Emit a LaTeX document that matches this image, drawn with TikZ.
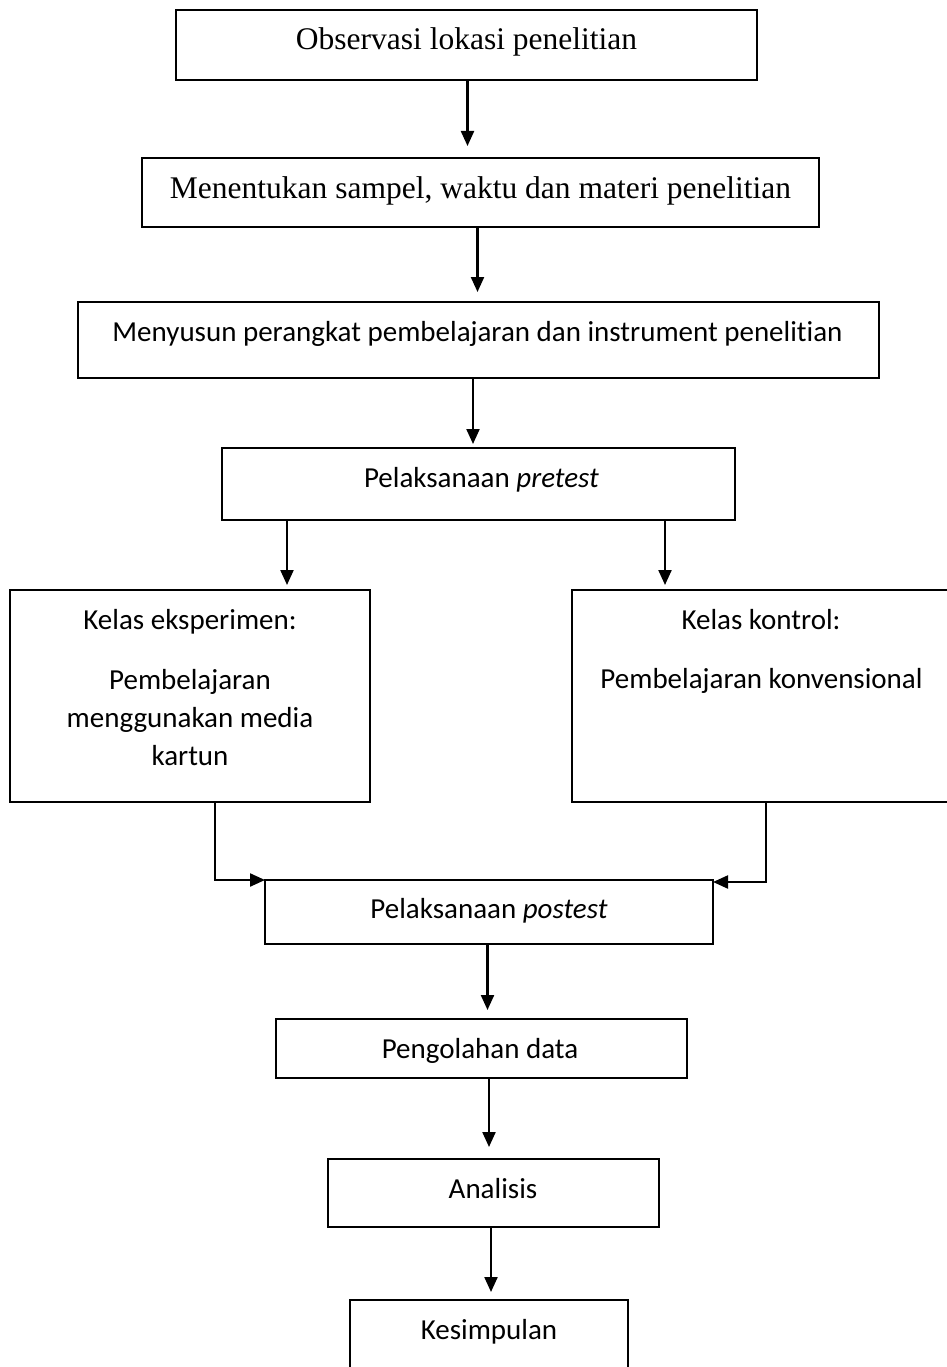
\documentclass[tikz,border=0pt]{standalone}
\usepackage{fontspec}
\setmainfont{Liberation Serif}
\newfontfamily\calfont[Ligatures=NoCommon]{Carlito}
\usetikzlibrary{arrows.meta}
\tikzset{
  box/.style={draw=black, line width=2.2pt, anchor=north west, inner sep=0pt, outer sep=0pt},
  serift/.style={anchor=base, inner sep=0pt, font=\fontsize{31.5}{38}\selectfont},
  calt/.style={anchor=base, inner sep=0pt, font=\calfont\fontsize{29}{38}\selectfont},
  arr/.style={line width=2.2pt, -{Triangle[length=15pt,width=13pt]}},
}
\begin{document}
\begin{tikzpicture}[x=1pt,y=-1pt]
\useasboundingbox (0,0) rectangle (947,1367);
\fill[white] (0,0) rectangle (947,1367);
\clip (0,0) rectangle (947,1367);
% boxes
\node[box, minimum width=581pt, minimum height=70pt] (b1) at (176,10) {};
\node[box, minimum width=677pt, minimum height=69pt] (b2) at (142,158) {};
\node[box, minimum width=801pt, minimum height=76pt] (b3) at (78,302) {};
\node[box, minimum width=513pt, minimum height=72pt] (b4) at (222,448) {};
\node[box, minimum width=360pt, minimum height=212pt] (b5) at (10,590) {};
\node[box, minimum width=379pt, minimum height=212pt] (b6) at (572,590) {};
\node[box, minimum width=448pt, minimum height=64pt] (b7) at (265,880) {};
\node[box, minimum width=411pt, minimum height=59pt] (b8) at (276,1019) {};
\node[box, minimum width=331pt, minimum height=68pt] (b9) at (328,1159) {};
\node[box, minimum width=278pt, minimum height=100pt] (b10) at (350,1300) {};
% texts
\node[serift] (t1) at (466.5,50) {Observasi lokasi penelitian};
\node[serift] (t2) at (480.5,199) {Menentukan sampel, waktu dan materi penelitian};
\node[calt] (t3) at (477.5,341) {Menyusun perangkat pembelajaran dan instrument penelitian};
\node[calt] (t4) at (481.5,487) {Pelaksanaan \textit{pretest}};
\node[calt] (t5a) at (190,629) {Kelas eksperimen:};
\node[calt] (t5b) at (190,689) {Pembelajaran};
\node[calt] (t5c) at (190,727) {menggunakan media};
\node[calt] (t5d) at (190,765) {kartun};
\node[calt] (t6a) at (761,629) {Kelas kontrol:};
\node[calt] (t6b) at (761.5,688) {Pembelajaran konvensional};
\node[calt] (t7) at (489,918) {Pelaksanaan \textit{postest}};
\node[calt] (t8) at (480,1058) {Pengolahan data};
\node[calt] (t9) at (493,1198) {Analisis};
\node[calt] (t10) at (489,1339) {Kesimpulan};
% connectors
\draw[arr, shorten >=12pt] ([xshift=1pt]b1.south) -- ([xshift=1pt]b1.south |- b2.north);
\draw[arr, shorten >=10pt] ([xshift=-3pt]b2.south) -- ([xshift=-3pt]b2.south |- b3.north);
\draw[arr, shorten >=4pt] ([xshift=-5.5pt]b3.south) -- ([xshift=-5.5pt]b3.south |- b4.north);
\draw[arr, shorten >=5pt] ([xshift=-191.5pt]b4.south) -- ([xshift=-191.5pt]b4.south |- b5.north);
\draw[arr, shorten >=5pt] ([xshift=186.5pt]b4.south) -- ([xshift=186.5pt]b4.south |- b6.north);
\draw[arr] ([xshift=25pt]b5.south) |- (b7.north west);
\draw[arr] ([xshift=4.5pt]b6.south) |- ([yshift=-2pt]b7.north east);
\draw[arr, shorten >=9pt] ([xshift=-1.5pt]b7.south) -- ([xshift=-1.5pt]b7.south |- b8.north);
\draw[arr, shorten >=12pt] ([xshift=7.5pt]b8.south) -- ([xshift=7.5pt]b8.south |- b9.north);
\draw[arr, shorten >=8pt] ([xshift=-2.5pt]b9.south) -- ([xshift=-2.5pt]b9.south |- b10.north);
\end{tikzpicture}
\end{document}
